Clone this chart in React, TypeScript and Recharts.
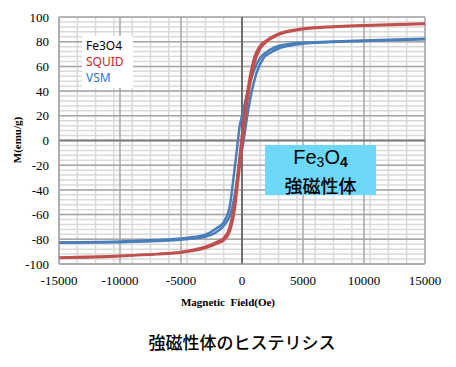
import React from "react";
import {
  Line,
  LineChart,
  ReferenceLine,
  XAxis,
  YAxis,
} from "recharts";

// Fe3O4 hysteresis, values (H in Oe, M in emu/g)
const squidUp = [
  { h: -15000, m: -95.2 }, { h: -10000, m: -93.7 }, { h: -7000, m: -92.2 },
  { h: -5000, m: -90.7 }, { h: -3000, m: -87 }, { h: -2000, m: -83.2 },
  { h: -1500, m: -80.8 }, { h: -1000, m: -73.5 }, { h: -600, m: -56 },
  { h: -300, m: -31 }, { h: 0, m: -5 }, { h: 200, m: 13 }, { h: 600, m: 42 },
  { h: 1000, m: 62 }, { h: 1500, m: 74.5 }, { h: 2000, m: 79.8 },
  { h: 3000, m: 85.5 }, { h: 5000, m: 90 }, { h: 7500, m: 92 },
  { h: 10000, m: 93 }, { h: 15000, m: 94.3 },
];
const squidDown = [
  { h: -15000, m: -94.7 }, { h: -10000, m: -93.3 }, { h: -7000, m: -91.8 },
  { h: -5000, m: -90.2 }, { h: -3000, m: -86 }, { h: -2000, m: -81.8 },
  { h: -1500, m: -79 }, { h: -1000, m: -70 }, { h: -600, m: -50 },
  { h: -300, m: -22 }, { h: 0, m: 5 }, { h: 200, m: 22 }, { h: 600, m: 49 },
  { h: 1000, m: 67 }, { h: 1500, m: 77 }, { h: 2000, m: 81 },
  { h: 3000, m: 86.5 }, { h: 5000, m: 90.6 }, { h: 7500, m: 92.4 },
  { h: 10000, m: 93.4 }, { h: 15000, m: 94.8 },
];
const vsmDown = [
  { h: -15000, m: -82.5 }, { h: -10000, m: -81.8 }, { h: -7000, m: -80.6 },
  { h: -5000, m: -79.4 }, { h: -4000, m: -78.2 }, { h: -3000, m: -76.3 },
  { h: -2000, m: -70.5 }, { h: -1500, m: -66 }, { h: -1000, m: -53 },
  { h: -650, m: -26.6 }, { h: -330, m: 0 }, { h: -200, m: 11 }, { h: 0, m: 20 },
  { h: 300, m: 33 }, { h: 600, m: 45 }, { h: 1000, m: 57 }, { h: 1500, m: 67 },
  { h: 2000, m: 71.5 }, { h: 2400, m: 74 }, { h: 3000, m: 76.5 },
  { h: 4000, m: 78.4 }, { h: 5000, m: 79.2 }, { h: 7000, m: 80 },
  { h: 10000, m: 81 }, { h: 15000, m: 82.4 },
];
const vsmUp = [
  { h: -15000, m: -82.8 }, { h: -10000, m: -82.4 }, { h: -7000, m: -81.4 },
  { h: -5000, m: -80.4 }, { h: -4000, m: -79.4 }, { h: -3000, m: -77.9 },
  { h: -2000, m: -73.5 }, { h: -1500, m: -69 }, { h: -1000, m: -61 },
  { h: -780, m: -53.6 }, { h: -500, m: -38 }, { h: -330, m: -26.6 },
  { h: 0, m: -8 }, { h: 130, m: 0 }, { h: 250, m: 8 }, { h: 500, m: 24 },
  { h: 790, m: 39.5 }, { h: 1200, m: 55 }, { h: 1750, m: 66.6 },
  { h: 2400, m: 71.5 }, { h: 3000, m: 74.5 }, { h: 4000, m: 77 },
  { h: 5000, m: 78.4 }, { h: 7000, m: 79.6 }, { h: 10000, m: 80.6 },
  { h: 15000, m: 82 },
];

const xTicks = [-15000, -10000, -5000, 0, 5000, 10000, 15000];
const yTicks = [-100, -80, -60, -40, -20, 0, 20, 40, 60, 80, 100];

const xMinor: number[] = [];
for (let v = -15000; v <= 15000; v += 1500) xMinor.push(v);
const yMinor: number[] = [];
for (let v = -100; v <= 100; v += 4) yMinor.push(v);

const RED = "#C0504D";
const BLUE = "#4A7EBB";
const serif = "'Liberation Serif', 'Times New Roman', serif";

const XTick = ({ x, y, payload }: any) => (
  <text x={x} y={y} dy="0.71em" textAnchor="middle" fill="#000" fontSize={13} fontFamily={serif}>
    {payload.value}
  </text>
);

const YTick = ({ x, y, payload }: any) => (
  <text x={x} y={y} dy="0.355em" textAnchor="end" fill="#000" fontSize={13} fontFamily={serif}>
    {payload.value}
  </text>
);

export default function App() {
  return (
    <div style={{ position: "absolute", left: 0, top: 0, width: 456, height: 367, background: "#fff" }}>
      <LineChart
        width={456}
        height={367}
        margin={{ top: 17, right: 31, bottom: 73, left: 9 }}
      >
        <XAxis
          type="number"
          dataKey="h"
          domain={[-15000, 15000]}
          ticks={xTicks}
          allowDataOverflow
          height={30}
          axisLine={{ stroke: "#a6a6a6" }}
          tickLine={false}
          tickSize={6}
          tickMargin={6}
          tick={<XTick />}
        />
        <YAxis
          type="number"
          dataKey="m"
          domain={[-100, 100]}
          ticks={yTicks}
          allowDataOverflow
          width={50}
          axisLine={{ stroke: "#a6a6a6" }}
          tickLine={false}
          tickSize={5}
          tickMargin={5}
          tick={<YTick />}
        />
        {yMinor.map((v) => (
          <ReferenceLine key={"ym" + v} y={v} stroke="#d9d9d9" strokeWidth={1.5} />
        ))}
        {xMinor.map((v) => (
          <ReferenceLine key={"xm" + v} x={v} stroke="#d9d9d9" strokeWidth={1.5} />
        ))}
        {yTicks.map((v) => (
          <ReferenceLine key={"yM" + v} y={v} stroke="#a6a6a6" strokeWidth={1.5} />
        ))}
        {xTicks.map((v) => (
          <ReferenceLine key={"xM" + v} x={v} stroke="#a6a6a6" strokeWidth={1.5} />
        ))}
        <ReferenceLine y={0} stroke="#7f7f7f" strokeWidth={2} />
        <ReferenceLine x={0} stroke="#404040" strokeWidth={1.2} />
        <Line data={vsmDown} dataKey="m" type="monotone" stroke={BLUE} strokeWidth={2.5} dot={false} isAnimationActive={false} />
        <Line data={vsmUp} dataKey="m" type="monotone" stroke={BLUE} strokeWidth={2.5} dot={false} isAnimationActive={false} />
        <Line data={squidDown} dataKey="m" type="monotone" stroke={RED} strokeWidth={2.5} dot={false} isAnimationActive={false} />
        <Line data={squidUp} dataKey="m" type="monotone" stroke={RED} strokeWidth={2.5} dot={false} isAnimationActive={false} />
      </LineChart>

      {/* legend box */}
      <div
        style={{
          position: "absolute", left: 82, top: 36, width: 51, height: 52,
          background: "#fff", fontFamily: "'Noto Sans', sans-serif", fontSize: 12,
          lineHeight: "16px", paddingLeft: 4, paddingTop: 2, boxSizing: "border-box",
        }}
      >
        <div style={{ color: "#000" }}>Fe3O4</div>
        <div style={{ color: "#d0202a" }}>SQUID</div>
        <div style={{ color: "#2f75c8" }}>VSM</div>
      </div>

      {/* annotation box */}
      <div
        style={{
          position: "absolute", left: 265, top: 145, width: 111, height: 50,
          background: "#6dd8fa", textAlign: "center", color: "#000",
          fontFamily: "'Noto Sans CJK JP', sans-serif",
        }}
      >
        <div style={{ fontSize: 20, lineHeight: "24px", fontFamily: "'Liberation Sans', Arial, sans-serif" }}>
          Fe<sub style={{ fontSize: 14, verticalAlign: "-3px" }}>3</sub>O
          <sub style={{ fontSize: 14, verticalAlign: "-3px", fontWeight: "bold" }}>4</sub>
        </div>
        <div style={{ fontSize: 18, lineHeight: "22px", fontWeight: 500 }}>強磁性体</div>
      </div>

      {/* axis titles */}
      <div
        style={{
          position: "absolute", left: 17, top: 140, transform: "translate(-50%, -50%) rotate(-90deg)",
          fontFamily: serif, fontWeight: "bold", fontSize: 11, whiteSpace: "nowrap",
        }}
      >
        M(emu/g)
      </div>
      <div
        style={{
          position: "absolute", left: 228, top: 302, transform: "translate(-50%, -50%)",
          fontFamily: serif, fontWeight: "bold", fontSize: 11, whiteSpace: "pre",
        }}
      >
        Magnetic  Field(Oe)
      </div>
      <div
        style={{
          position: "absolute", left: 242, top: 341, transform: "translate(-50%, -50%)",
          fontFamily: "'Noto Sans CJK JP', sans-serif", fontSize: 17, fontWeight: 500, whiteSpace: "nowrap",
        }}
      >
        強磁性体のヒステリシス
      </div>
    </div>
  );
}
